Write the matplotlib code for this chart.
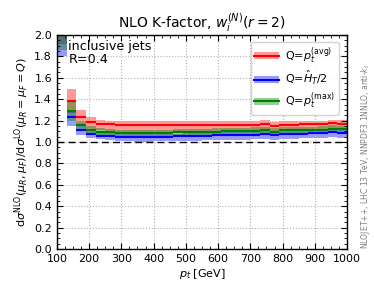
import numpy as np
import matplotlib
matplotlib.use("Agg")
import matplotlib.pyplot as plt
from matplotlib.patches import Patch
from matplotlib.lines import Line2D

# pt bins (30 GeV wide)
edges = np.arange(100, 1001, 30)

# Q = pt(avg)  (red)
avg_c  = [2.30, 1.38, 1.235, 1.185, 1.170, 1.165, 1.158, 1.156, 1.155, 1.155, 1.155, 1.155, 1.155, 1.155, 1.156,
          1.158, 1.160, 1.160, 1.160, 1.162, 1.163, 1.170, 1.150, 1.163, 1.163, 1.165, 1.166, 1.167, 1.175, 1.170]
avg_lo = [1.92, 1.27, 1.160, 1.120, 1.110, 1.100, 1.098, 1.097, 1.097, 1.097, 1.098, 1.098, 1.098, 1.099, 1.100,
          1.102, 1.104, 1.105, 1.106, 1.108, 1.109, 1.116, 1.098, 1.110, 1.111, 1.113, 1.114, 1.115, 1.122, 1.118]
avg_hi = [2.60, 1.50, 1.300, 1.230, 1.210, 1.200, 1.195, 1.193, 1.192, 1.192, 1.192, 1.192, 1.192, 1.192, 1.193,
          1.195, 1.196, 1.196, 1.196, 1.197, 1.198, 1.205, 1.185, 1.198, 1.198, 1.199, 1.200, 1.201, 1.208, 1.203]

# Q = HT/2  (blue)
ht_c  = [2.05, 1.23, 1.110, 1.075, 1.060, 1.055, 1.050, 1.048, 1.048, 1.048, 1.050, 1.051, 1.053, 1.055, 1.057,
         1.060, 1.062, 1.064, 1.066, 1.068, 1.070, 1.078, 1.062, 1.074, 1.076, 1.078, 1.080, 1.082, 1.092, 1.086]
ht_lo = [1.80, 1.15, 1.065, 1.040, 1.025, 1.015, 1.008, 1.005, 1.004, 1.004, 1.005, 1.006, 1.008, 1.010, 1.012,
         1.015, 1.017, 1.019, 1.021, 1.023, 1.025, 1.032, 1.017, 1.029, 1.031, 1.033, 1.035, 1.037, 1.046, 1.040]
ht_hi = [2.30, 1.28, 1.150, 1.100, 1.085, 1.080, 1.075, 1.073, 1.073, 1.073, 1.075, 1.076, 1.078, 1.080, 1.082,
         1.085, 1.087, 1.089, 1.091, 1.093, 1.095, 1.103, 1.087, 1.099, 1.101, 1.103, 1.105, 1.107, 1.117, 1.111]

# Q = pt(max)  (green)
mx_c  = [2.20, 1.29, 1.155, 1.110, 1.095, 1.090, 1.085, 1.083, 1.083, 1.084, 1.085, 1.087, 1.089, 1.091, 1.093,
         1.096, 1.098, 1.100, 1.102, 1.104, 1.106, 1.114, 1.097, 1.110, 1.111, 1.113, 1.115, 1.117, 1.126, 1.120]
mx_lo = [1.86, 1.20, 1.100, 1.070, 1.060, 1.050, 1.045, 1.043, 1.043, 1.044, 1.045, 1.047, 1.049, 1.051, 1.053,
         1.056, 1.058, 1.060, 1.062, 1.064, 1.066, 1.074, 1.057, 1.070, 1.071, 1.073, 1.075, 1.077, 1.086, 1.080]
mx_hi = [2.50, 1.37, 1.200, 1.150, 1.130, 1.120, 1.115, 1.113, 1.113, 1.114, 1.115, 1.117, 1.119, 1.121, 1.123,
         1.126, 1.128, 1.130, 1.132, 1.134, 1.136, 1.144, 1.127, 1.140, 1.141, 1.143, 1.145, 1.147, 1.156, 1.150]

fig = plt.figure(figsize=(3.74, 2.99), dpi=100)
ax = fig.add_axes([0.152, 0.167, 0.776, 0.716])

series = [
    (avg_c, avg_lo, avg_hi, "red"),
    (ht_c, ht_lo, ht_hi, "blue"),
    (mx_c, mx_lo, mx_hi, "green"),
]
for c, lo, hi, col in series:
    ax.stairs(hi, edges, baseline=lo, fill=True, color=col, alpha=0.4, lw=0)
    ax.hlines(c, edges[:-1], edges[1:], color=col, lw=1.5)

ax.axhline(1.0, color="black", ls="--", lw=1.0, dashes=(5, 3))

ax.set_xlim(100, 1000)
ax.set_ylim(0, 2.0)
ax.set_xticks(np.arange(100, 1001, 100))
ax.set_xticks(np.arange(100, 1001, 25), minor=True)
ax.set_yticks(np.arange(0, 2.01, 0.2))
ax.set_yticks(np.arange(0, 2.01, 0.05), minor=True)
ax.yaxis.set_major_formatter(matplotlib.ticker.FormatStrFormatter("%.1f"))
ax.tick_params(which="both", direction="in", top=True, right=True, labelsize=8)
ax.tick_params(which="major", length=4)
ax.tick_params(which="minor", length=2)
ax.grid(True, which="major", ls=":", color="0.7", lw=0.8)
for s in ax.spines.values():
    s.set_linewidth(1.0)

ax.set_title(r"NLO K-factor, $w_i^{(N)}(r=2)$", fontsize=10, pad=4)
ax.set_xlabel(r"$p_t$ [GeV]", fontsize=8, labelpad=2)
ax.set_ylabel(r"d$\sigma^{\rm NLO}(\mu_R,\mu_F)$/d$\sigma^{\rm LO}(\mu_R=\mu_F=Q)$", fontsize=8, labelpad=2)

ax.text(0.04, 0.975, "inclusive jets\nR=0.4", transform=ax.transAxes, ha="left", va="top",
        fontsize=9.2, linespacing=1.0)

handles = []
for col in ["red", "blue", "green"]:
    handles.append((Patch(color=col, alpha=0.4, lw=0), Line2D([], [], color=col, lw=1.5)))
labels = [r"Q=$p_t^{\rm (avg)}$", r"Q=$\hat{H}_T/2$", r"Q=$p_t^{\rm (max)}$"]
leg = ax.legend(handles, labels, loc="upper right", fontsize=8, handlelength=2.2,
                handleheight=0.6, labelspacing=0.3, borderpad=0.3, handletextpad=0.6,
                framealpha=0.9, edgecolor="0.8", bbox_to_anchor=(0.99, 0.995))

fig.text(0.96, 0.167, r"NLOJET++, LHC 13 TeV, NNPDF3.1NNLO, anti-$k_t$", rotation=90,
         ha="left", va="bottom", fontsize=5.5, color="0.5")

fig.savefig("out.png", dpi=100)
